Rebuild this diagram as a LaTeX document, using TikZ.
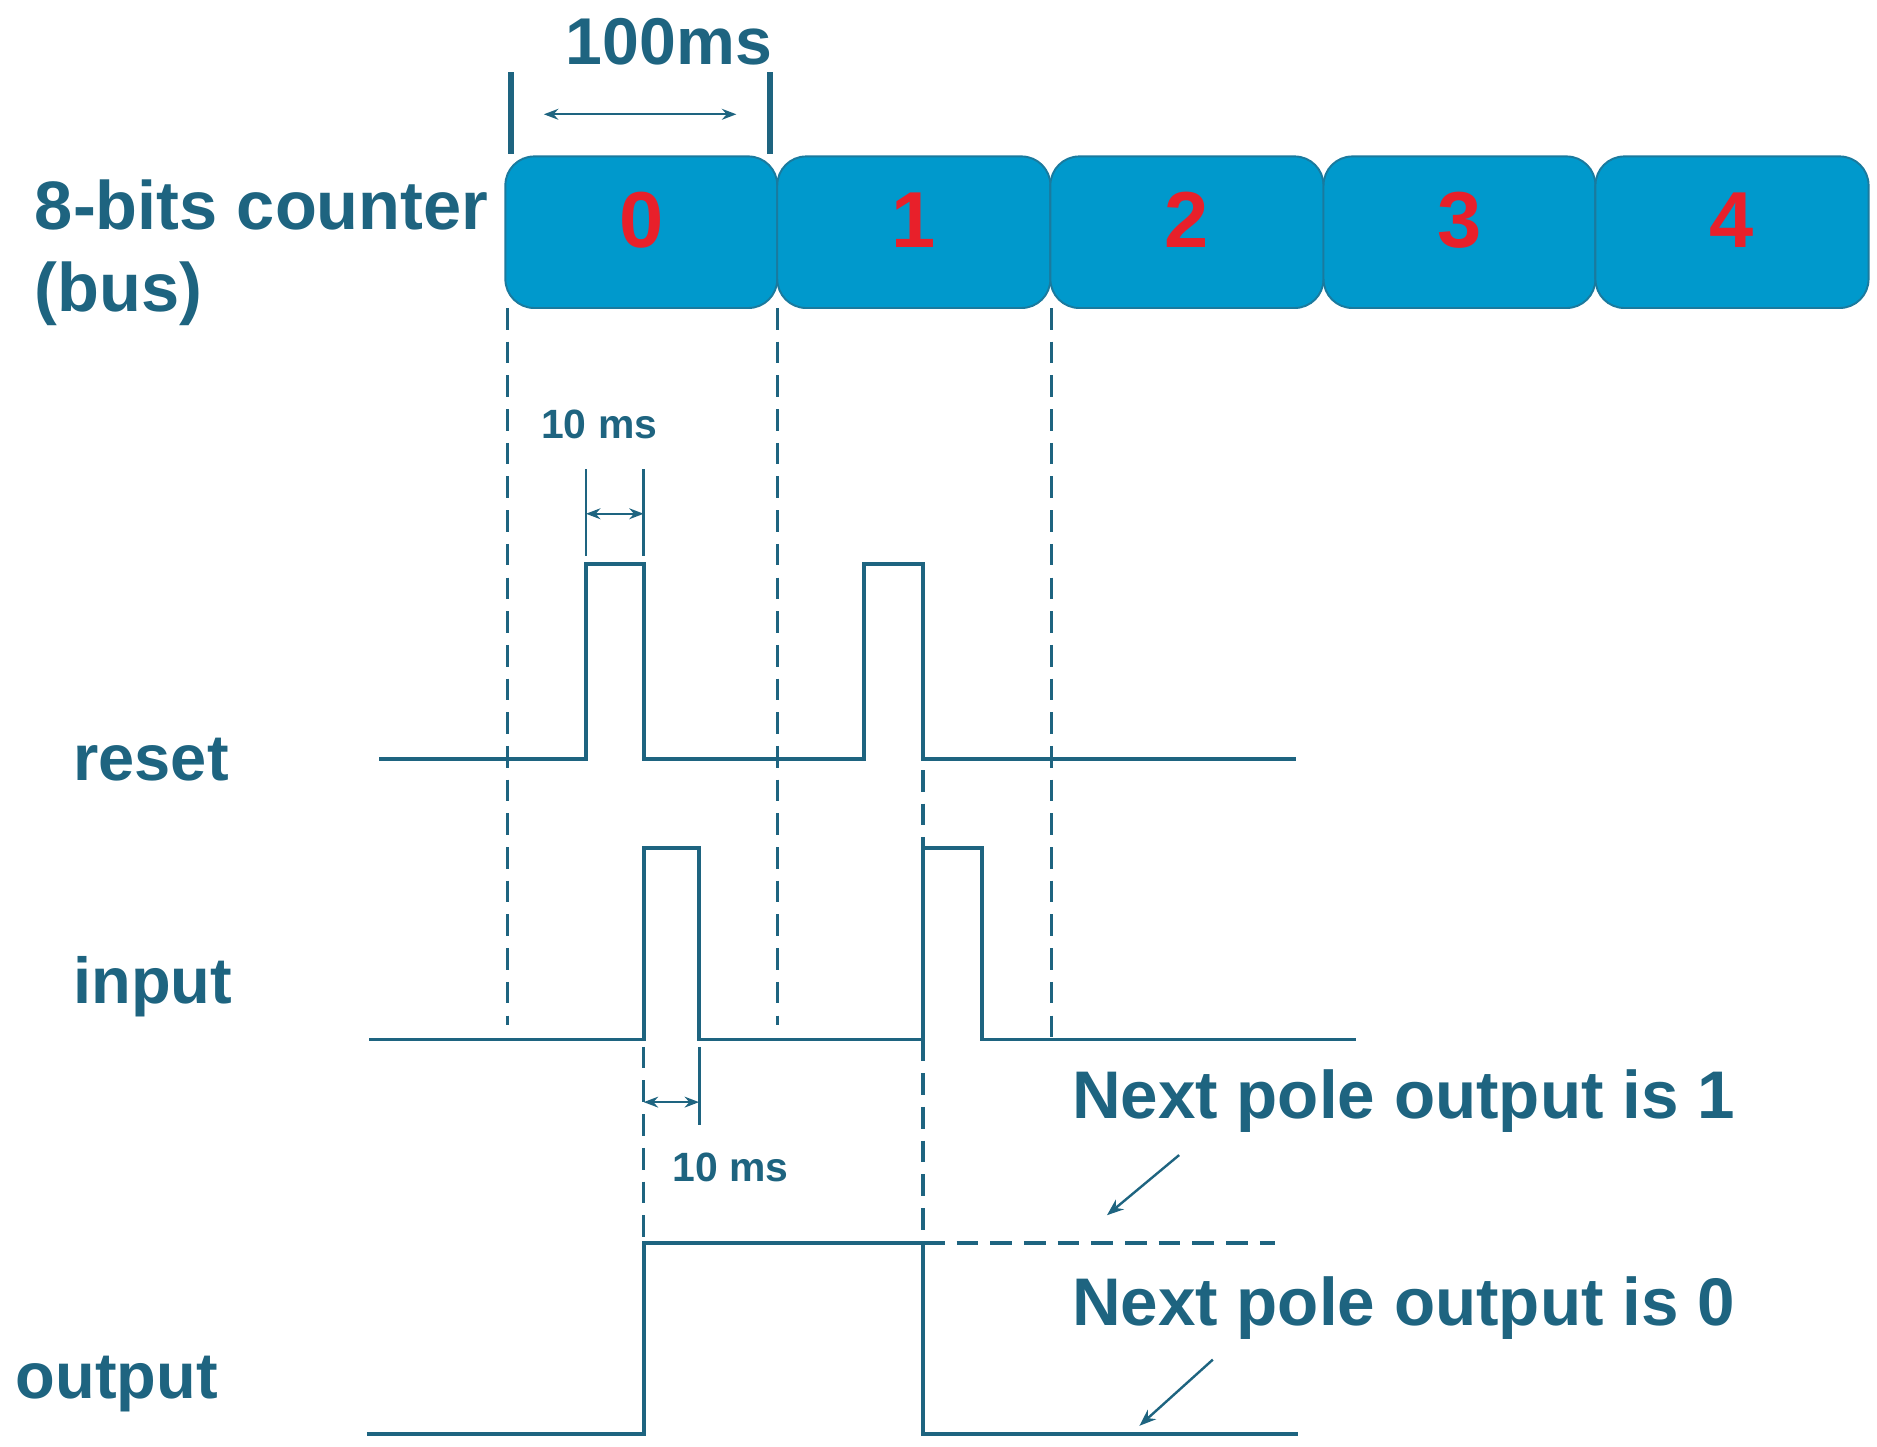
\documentclass[tikz,border=0pt]{standalone}
\usepackage{fontspec}
\setmainfont{Liberation Sans}
\usetikzlibrary{arrows.meta}
\definecolor{tc}{HTML}{1E6480}
\definecolor{bf}{HTML}{0099CC}
\definecolor{bd}{HTML}{1A7A9E}
\definecolor{rd}{HTML}{E8202A}
\begin{document}
\begin{tikzpicture}[x=0.5pt,y=-0.5pt,
  sig/.style={tc,line width=1.6pt},
  dsh/.style={tc,line width=1.4pt,dash pattern=on 9pt off 5pt},
  box/.style={draw=bd,fill=bf,rounded corners=12pt,line width=0.8pt},
  num/.style={text=rd,font=\fontsize{33}{36}\selectfont\bfseries},
  lab/.style={text=tc,font=\fontsize{27}{30}\selectfont\bfseries},
  sm/.style={text=tc,font=\fontsize{17}{20}\selectfont\bfseries},
  dim/.style={tc,line width=1pt,{Stealth[length=6pt]}-{Stealth[length=6pt]}},
  pt/.style={tc,line width=1pt,-{Stealth[length=7pt]}}]
\useasboundingbox (0,0) rectangle (1560,1202);
% counter boxes
\foreach \i/\a/\b in {0/420/646,1/646/873,2/873/1100,3/1100/1326,4/1326/1553}{
  \draw[box] (\a,130) rectangle (\b,256);
  \node[num] (n\i) at ({(\a+\b)/2},183) {\i};
}
\node[lab,anchor=west,align=left,font=\fontsize{28.5}{34}\selectfont\bfseries] (cnt) at (22,210) {8-bits counter\\(bus)};
\node[lab,font=\fontsize{27.5}{30}\selectfont\bfseries] (t100) at (556,35) {100ms};
\draw[tc,line width=2.4pt] (425,60) -- (425,128);
\draw[tc,line width=2.4pt] (640,60) -- (640,128);
\coordinate (a1) at (452,95); \coordinate (a2) at (612,95);
\draw[dim] (a1) -- (a2);
% dashed verticals
\draw[dsh] (422,256) -- (422,852);
\draw[dsh] (646,256) -- (646,852);
\draw[dsh] (874,256) -- (874,870);
\draw[dsh] (535,870) -- (535,1033);
\draw[dsh] (767,640) -- (767,1192);
% 10ms top
\node[sm] (t10a) at (498,353) {10 ms};
\draw[tc,line width=1.2pt] (487,390) -- (487,462) (535,390) -- (535,462);
\draw[dim] (487,427) -- (535,427);
% reset
\node[lab,anchor=west] (lreset) at (54,631) {reset};
\draw[sig] (315,631) -- (487,631) -- (487,469) -- (535,469) -- (535,631) -- (718,631) -- (718,469) -- (767,469) -- (767,631) -- (1077,631);
% input
\node[lab,anchor=west] (linput) at (54,820) {input};
\draw[sig] (307,864) -- (535,864) -- (535,705) -- (581,705) -- (581,864) -- (767,864);
\draw[sig] (767,864) -- (767,705) -- (816,705) -- (816,864) -- (1127,864);
% 10ms bottom
\draw[tc,line width=1.2pt] (581,870) -- (581,935);
\draw[dim] (535,916) -- (581,916);
\node[sm] (t10b) at (607,970) {10 ms};
% output
\node[lab,anchor=west] (lout) at (6,1150) {output};
\draw[sig] (305,1192) -- (535,1192) -- (535,1033) -- (767,1033) -- (767,1192) -- (1079,1192);
\draw[dsh,line width=1.6pt] (767,1033) -- (1060,1033);
\node[lab,anchor=west,font=\fontsize{28}{30}\selectfont\bfseries] (np1) at (884,915) {Next pole output is 1};
\node[lab,anchor=west,font=\fontsize{28}{30}\selectfont\bfseries] (np0) at (884,1087) {Next pole output is 0};
\coordinate (p1s) at (980,960); \coordinate (p1e) at (920,1010);
\coordinate (p0s) at (1008,1130); \coordinate (p0e) at (947,1185);
\draw[pt] (p1s) -- (p1e);
\draw[pt] (p0s) -- (p0e);
\end{tikzpicture}
\end{document}
